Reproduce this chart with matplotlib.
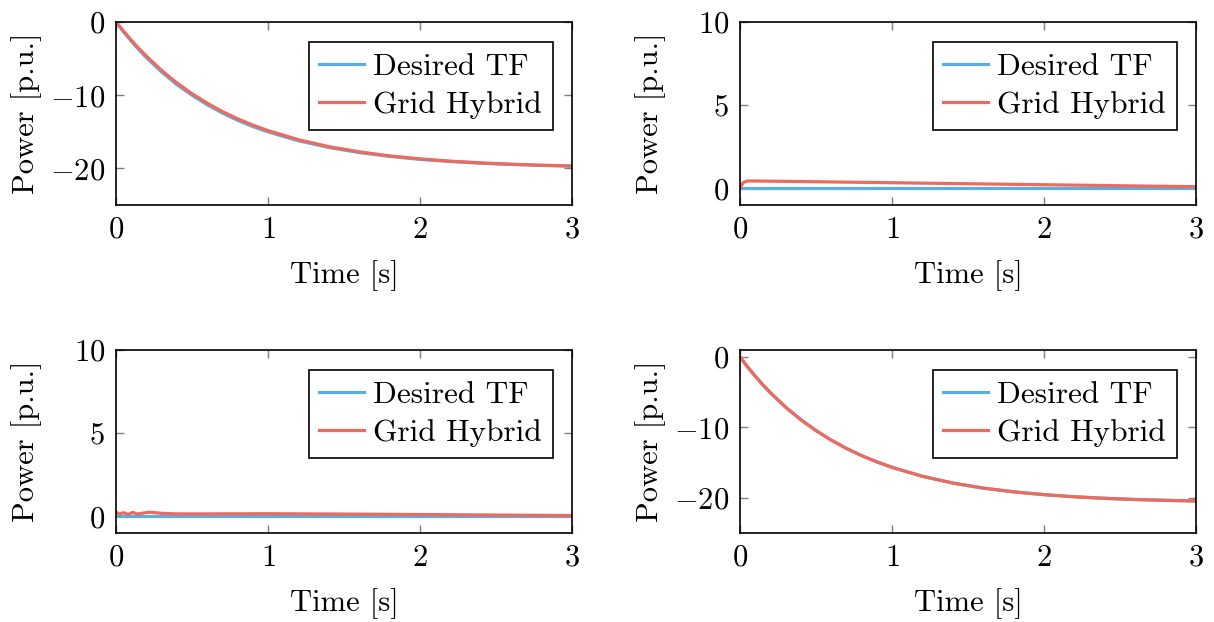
import numpy as np
import matplotlib
matplotlib.use("Agg")
import matplotlib.pyplot as plt

plt.rcParams['font.family'] = 'serif'
plt.rcParams['font.serif'] = ['cmr10', 'DejaVu Serif']
plt.rcParams['mathtext.fontset'] = 'cm'
plt.rcParams['axes.formatter.use_mathtext'] = True

# values
t = [0, 0.05, 0.1, 0.15, 0.2, 0.3, 0.4, 0.5, 0.6, 0.7, 0.8, 0.9, 1.0,
     1.2, 1.4, 1.6, 1.8, 2.0, 2.2, 2.4, 2.6, 2.8, 3.0]

# panel 1 (top left)
p1_tf = [0, -1.35, -2.6, -3.77, -4.86, -6.82, -8.53, -10.0, -11.3, -12.43, -13.42, -14.27, -15.0,
         -16.22, -17.14, -17.83, -18.36, -18.76, -19.06, -19.29, -19.46, -19.59, -19.69]
p1_gh = [0, -1.25, -2.45, -3.6, -4.65, -6.6, -8.3, -9.78, -11.08, -12.22, -13.22, -14.08, -14.83,
         -16.07, -17.02, -17.73, -18.28, -18.69, -19.0, -19.24, -19.42, -19.56, -19.66]

# panel 2 (top right)
t2 = [0, 0.02, 0.05, 0.5, 1.0, 1.5, 2.0, 2.5, 3.0]
p2_tf = [0, 0, 0, 0, 0, 0, 0, 0, 0]
p2_gh = [0.0, 0.35, 0.45, 0.4, 0.34, 0.28, 0.22, 0.16, 0.1]

# panel 3 (bottom left)
t3 = [0, 0.02, 0.05, 0.08, 0.11, 0.14, 0.18, 0.22, 0.26, 0.3, 0.4, 0.6, 1.0, 1.5, 2.0, 2.5, 3.0]
p3_tf = [0] * len(t3)
p3_gh = [0.25, 0.15, 0.22, 0.12, 0.24, 0.14, 0.2, 0.25, 0.22, 0.18, 0.15, 0.15, 0.16, 0.14, 0.11, 0.08, 0.05]

# panel 4 (bottom right)
p4_tf = [0, -1.4, -2.7, -3.93, -5.06, -7.11, -8.89, -10.44, -11.79, -12.97, -14.0, -14.89, -15.67,
         -16.94, -17.9, -18.62, -19.15, -19.55, -19.85, -20.07, -20.24, -20.36, -20.45]
p4_gh = [0, -1.4, -2.71, -3.94, -5.07, -7.12, -8.9, -10.45, -11.8, -12.98, -14.0, -14.89, -15.67,
         -16.94, -17.9, -18.62, -19.15, -19.55, -19.85, -20.07, -20.24, -20.36, -20.45]

panels = [
    (t, p1_tf, t, p1_gh, (-25, 0), [-20, -10, 0]),
    (t2, p2_tf, t2, p2_gh, (-1, 10), [0, 5, 10]),
    (t3, p3_tf, t3, p3_gh, (-1, 10), [0, 5, 10]),
    (t, p4_tf, t, p4_gh, (-25, 1), [-20, -10, 0]),
]

blue = '#5aaee0'
red = '#ec6b5e'

fig = plt.figure(figsize=(12.14, 6.22), dpi=100)
lefts = [0.0956, 0.6096]
bottoms = [0.6704, 0.1431]
w, h = 0.3756, 0.294

for i, (ta, ya, tb, yb, ylim, yticks) in enumerate(panels):
    ax = fig.add_axes([lefts[i % 2], bottoms[i // 2], w, h])
    ax.plot(ta, ya, color=blue, lw=2.3, label='Desired TF')
    ax.plot(tb, yb, color=red, lw=2.3, label='Grid Hybrid')
    ax.set_xlim(0, 3)
    ax.set_ylim(*ylim)
    ax.set_xticks([0, 1, 2, 3])
    ax.set_yticks(yticks)
    ax.tick_params(direction='in', length=6, width=1, color='#808080',
                   top=True, right=True, labelsize=22, pad=8)
    for s in ax.spines.values():
        s.set_linewidth(1.2)
    ax.set_xlabel('Time [s]', fontsize=22, labelpad=12)
    ax.set_ylabel('Power [p.u.]', fontsize=22)
    ax.yaxis.set_label_coords(-0.163, 0.5)
    leg = ax.legend(loc='upper right', bbox_to_anchor=(0.958, 0.89), borderaxespad=0,
                    fontsize=22.5, fancybox=False, framealpha=1, edgecolor='black',
                    handlelength=1.42, borderpad=0.35, labelspacing=0.32, handletextpad=0.3)
    leg.get_frame().set_linewidth(1.2)

fig.savefig('out.png', dpi=100)
